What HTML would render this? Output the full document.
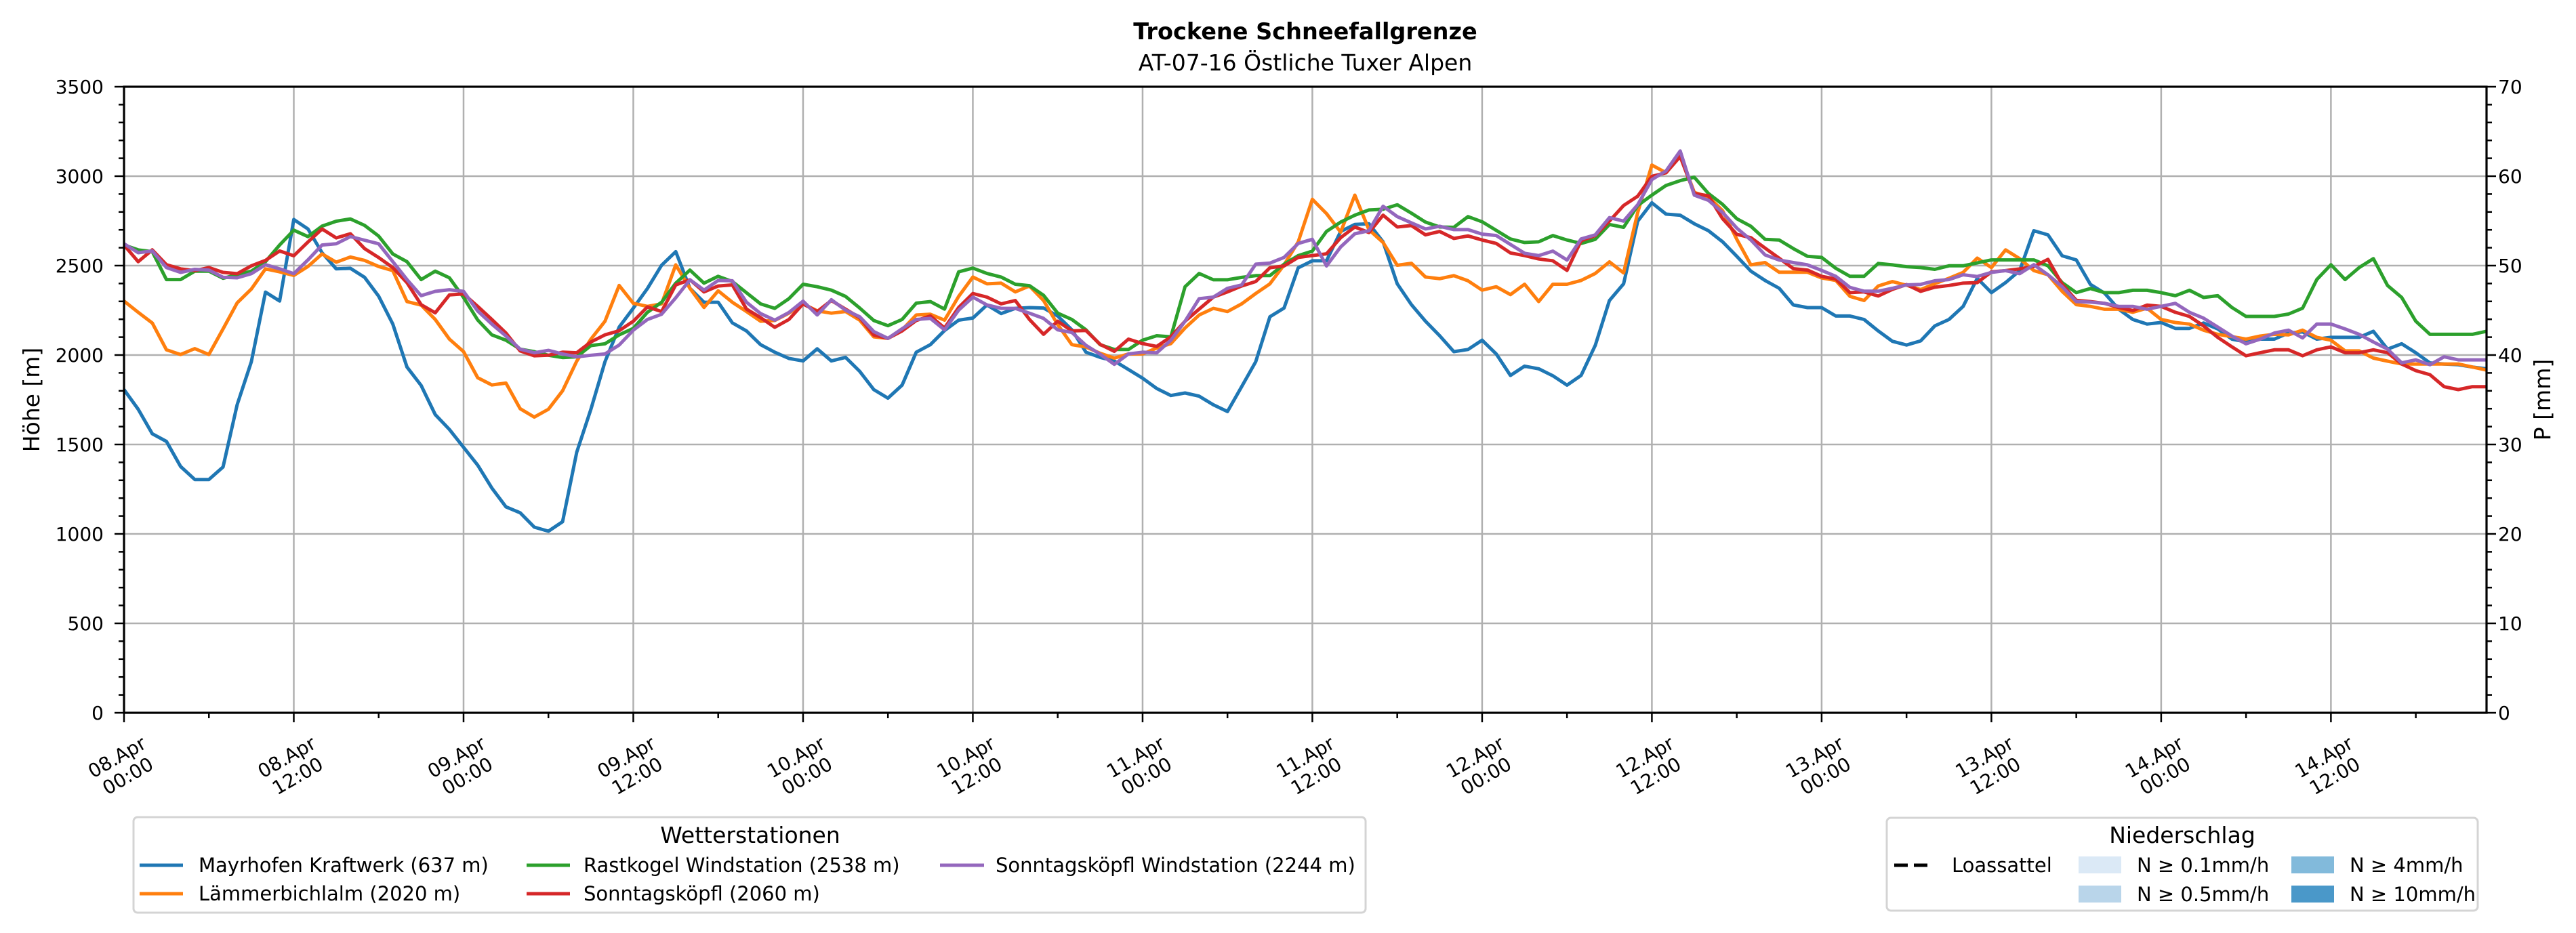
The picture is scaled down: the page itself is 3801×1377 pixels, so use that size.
<!DOCTYPE html>
<html><head><meta charset="utf-8"><style>
html,body{margin:0;padding:0;background:#fff;}
svg{display:block;font-family:"DejaVu Sans","Liberation Sans",sans-serif;}
</style></head><body>
<svg id="chart" width="3801" height="1377" viewBox="0 0 3801 1377" xmlns="http://www.w3.org/2000/svg">
<rect width="3801" height="1377" fill="#fff"/>
<text x="1926" y="58" text-anchor="middle" font-size="33.5" font-weight="bold">Trockene Schneefallgrenze</text>
<text x="1926" y="104" text-anchor="middle" font-size="33">AT-07-16 Östliche Tuxer Alpen</text>
<g id="grid"></g>
<g id="series"></g>
<g id="axes"></g>
<text transform="translate(58,590) rotate(-90)" text-anchor="middle" font-size="33">Höhe [m]</text>
<text transform="translate(3763,590) rotate(-90)" text-anchor="middle" font-size="33">P [mm]</text>

<g>
<rect x="197" y="1206" width="1818" height="141" rx="6" fill="#fff" stroke="#d4d4d4" stroke-width="3"/>
<text x="1107" y="1244" text-anchor="middle" font-size="33">Wetterstationen</text>
<line x1="206" y1="1277" x2="270" y2="1277" stroke="#1f77b4" stroke-width="5"/>
<text x="293" y="1287" font-size="29">Mayrhofen Kraftwerk (637 m)</text>
<line x1="206" y1="1319" x2="270" y2="1319" stroke="#ff7f0e" stroke-width="5"/>
<text x="293" y="1329" font-size="29">Lämmerbichlalm (2020 m)</text>
<line x1="777" y1="1277" x2="841" y2="1277" stroke="#2ca02c" stroke-width="5"/>
<text x="861" y="1287" font-size="29">Rastkogel Windstation (2538 m)</text>
<line x1="777" y1="1319" x2="841" y2="1319" stroke="#d62728" stroke-width="5"/>
<text x="861" y="1329" font-size="29">Sonntagsköpfl (2060 m)</text>
<line x1="1387" y1="1277" x2="1452" y2="1277" stroke="#9467bd" stroke-width="5"/>
<text x="1469" y="1287" font-size="29">Sonntagsköpfl Windstation (2244 m)</text>
</g>
<g>
<rect x="2784" y="1207" width="872" height="137" rx="6" fill="#fff" stroke="#d4d4d4" stroke-width="3"/>
<text x="3220" y="1244" text-anchor="middle" font-size="33">Niederschlag</text>
<line x1="2795" y1="1277" x2="2851" y2="1277" stroke="#000" stroke-width="5" stroke-dasharray="20,9"/>
<text x="2880" y="1287" font-size="29">Loassattel</text>
<rect x="3067" y="1264" width="63" height="25" fill="#dbe9f6"/>
<text x="3153" y="1287" font-size="29">N ≥ 0.1mm/h</text>
<rect x="3067" y="1307" width="63" height="25" fill="#b9d5ea"/>
<text x="3153" y="1330" font-size="29">N ≥ 0.5mm/h</text>
<rect x="3381" y="1264" width="63" height="25" fill="#82badb"/>
<text x="3467" y="1287" font-size="29">N ≥ 4mm/h</text>
<rect x="3381" y="1307" width="63" height="25" fill="#4a98c9"/>
<text x="3467" y="1330" font-size="29">N ≥ 10mm/h</text>
</g>
</svg>
<script>
const yTicks=[0,500,1000,1500,2000,2500,3000,3500];
const y2Ticks=[0,10,20,30,40,50,60,70];
const xTickDates=["08.Apr","08.Apr","09.Apr","09.Apr","10.Apr","10.Apr","11.Apr","11.Apr","12.Apr","12.Apr","13.Apr","13.Apr","14.Apr","14.Apr"];
const xTickTimes=["00:00","12:00","00:00","12:00","00:00","12:00","00:00","12:00","00:00","12:00","00:00","12:00","00:00","12:00"];
const mayrhofen=[1807,1697,1560,1517,1377,1304,1304,1374,1723,1963,2352,2302,2758,2705,2572,2482,2485,2435,2329,2173,1933,1830,1667,1584,1484,1384,1257,1151,1118,1038,1015,1068,1457,1697,1963,2156,2262,2372,2502,2578,
2373,2295,2295,2180,2135,2058,2016,1981,1967,2035,1967,1987,1909,1807,1759,1832,2016,2058,2137,2195,2207,2280,2232,2261,2265,2263,2218,2141,2016,1987,1967,1919,1871,1813,1774,1788,1770,1722,1684,1823,1963,2214,2263,
2488,2527,2527,2691,2730,2734,2633,2398,2282,2189,2108,2019,2031,2083,2006,1886,1938,1923,1884,1832,1886,2054,2305,2398,2748,2851,2788,2782,2734,2695,2633,2552,2469,2417,2373,2280,2265,2265,2218,2218,2199,2135,2077,
2056,2079,2163,2199,2272,2429,2349,2405,2472,2695,2672,2555,2532,2395,2346,2256,2199,2173,2182,2149,2149,2179,2146,2089,2073,2089,2089,2123,2129,2089,2099,2099,2099,2133,2033,2063,2013,1956,1950,1946,1933,1923];
const laemmerbichl=[2302,2239,2179,2029,2003,2036,2003,2146,2292,2369,2482,2465,2445,2495,2565,2519,2548,2529,2495,2472,2299,2279,2199,2089,2019,1873,1833,1843,1700,1653,1697,1800,1966,2089,2189,2389,2289,2272,2286,2504,
2373,2266,2359,2295,2243,2189,2193,2234,2286,2247,2234,2243,2195,2102,2093,2141,2224,2228,2195,2328,2436,2398,2402,2353,2386,2305,2170,2058,2045,2010,1983,2006,2006,2039,2064,2151,2224,2261,2243,2286,2344,2398,2504,
2633,2871,2791,2687,2894,2701,2629,2502,2513,2436,2427,2444,2415,2363,2382,2338,2396,2299,2396,2396,2417,2456,2521,2459,2797,3062,3019,3120,2909,2884,2807,2647,2504,2517,2463,2463,2463,2431,2417,2328,2305,2386,2411,
2390,2366,2399,2429,2462,2542,2489,2588,2539,2472,2449,2356,2282,2272,2256,2256,2239,2262,2199,2182,2173,2139,2116,2103,2089,2106,2116,2113,2139,2099,2083,2023,2023,1983,1966,1950,1950,1950,1950,1950,1933,1916];
const rastkogel=[2615,2588,2578,2422,2422,2469,2469,2429,2449,2469,2522,2615,2698,2662,2721,2748,2761,2725,2665,2565,2522,2422,2469,2432,2322,2196,2113,2083,2033,2019,1999,1986,1990,2053,2063,2113,2149,2239,2295,2402,
2475,2402,2440,2411,2348,2286,2261,2315,2396,2382,2363,2328,2263,2193,2164,2199,2290,2299,2257,2465,2486,2456,2436,2396,2388,2334,2234,2199,2141,2058,2031,2031,2083,2108,2102,2382,2456,2421,2421,2434,2444,2444,2508,
2556,2581,2691,2743,2782,2811,2815,2840,2793,2743,2716,2714,2774,2745,2697,2649,2629,2633,2668,2643,2624,2647,2730,2714,2836,2894,2948,2975,2994,2903,2842,2762,2720,2647,2643,2595,2552,2546,2485,2440,2440,2512,2504,
2494,2489,2479,2499,2499,2515,2532,2532,2532,2532,2499,2405,2349,2372,2349,2349,2362,2362,2349,2332,2362,2322,2332,2266,2216,2216,2216,2229,2262,2422,2505,2422,2489,2539,2389,2322,2189,2116,2116,2116,2116,2133];
const sonntagskoepfl=[2615,2522,2588,2505,2482,2472,2489,2462,2455,2499,2529,2582,2555,2632,2705,2655,2678,2595,2545,2489,2405,2282,2236,2336,2342,2272,2199,2123,2023,1996,1999,2016,2013,2073,2113,2136,2189,2269,2243,2392,
2421,2353,2386,2392,2257,2209,2155,2199,2286,2243,2305,2257,2209,2112,2093,2135,2193,2218,2151,2266,2344,2324,2286,2305,2199,2116,2189,2135,2137,2060,2021,2089,2064,2048,2102,2189,2257,2324,2353,2386,2411,2488,2498,
2546,2556,2566,2656,2716,2685,2782,2716,2724,2672,2691,2652,2666,2643,2624,2571,2556,2537,2527,2473,2639,2668,2749,2836,2888,2999,3019,3110,2903,2890,2762,2675,2656,2598,2541,2483,2475,2440,2425,2349,2353,2330,2367,
2394,2356,2379,2389,2402,2405,2465,2472,2482,2495,2535,2395,2306,2299,2289,2266,2249,2279,2272,2239,2216,2163,2099,2046,1996,2013,2029,2029,1996,2029,2046,2013,2013,2029,2013,1950,1913,1890,1823,1807,1823,1823];
const sonntagWind=[2622,2572,2582,2489,2462,2479,2475,2435,2432,2455,2505,2482,2455,2532,2615,2622,2662,2642,2622,2522,2422,2332,2356,2365,2356,2246,2173,2106,2033,2013,2026,2006,1990,1999,2006,2056,2139,2199,2228,2320,
2421,2363,2417,2415,2295,2232,2195,2238,2301,2224,2309,2251,2214,2131,2093,2147,2199,2205,2141,2251,2324,2280,2261,2261,2234,2205,2141,2126,2054,2005,1948,2006,2016,2012,2083,2189,2315,2324,2373,2392,2508,2514,2546,
2624,2647,2498,2604,2678,2695,2832,2774,2739,2705,2720,2701,2701,2676,2668,2618,2569,2556,2581,2531,2649,2672,2768,2749,2840,2981,3029,3141,2894,2865,2797,2710,2643,2560,2531,2517,2504,2473,2440,2378,2357,2357,2373,
2392,2395,2415,2422,2449,2439,2462,2472,2455,2505,2449,2382,2299,2296,2289,2272,2272,2256,2272,2289,2239,2206,2156,2106,2063,2089,2123,2139,2096,2173,2173,2146,2116,2073,2033,1956,1973,1946,1990,1973,1973,1973];

const NS="http://www.w3.org/2000/svg";
const X0=183,X1=3669,Y0=1052,Y1=128,HMAX=167,VMAX=3500,PMAX=70;
function xs(h){return X0+h*(X1-X0)/HMAX;}
function ys(v){return Y0-v*(Y0-Y1)/VMAX;}
function y2s(p){return Y0-p*(Y0-Y1)/PMAX;}
function mk(tag,attrs,parent){const e=document.createElementNS(NS,tag);for(const k in attrs)e.setAttribute(k,attrs[k]);parent.appendChild(e);return e;}
const grid=document.getElementById('grid'),axes=document.getElementById('axes'),ser=document.getElementById('series');
yTicks.forEach(v=>{const l=mk('line',{x1:X0,x2:X1,y1:ys(v),y2:ys(v),stroke:'#b0b0b0','stroke-width':2.5},grid);

});
xTickDates.forEach((d,i)=>{const l=mk('line',{x1:xs(i*12),x2:xs(i*12),y1:Y0,y2:Y1,stroke:'#b0b0b0','stroke-width':2.5},grid);

});
const series=[[mayrhofen,'#1f77b4','mayrhofen-line'],[laemmerbichl,'#ff7f0e','laemmerbichlalm-line'],[rastkogel,'#2ca02c','rastkogel-line'],[sonntagskoepfl,'#d62728','sonntagskoepfl-line'],[sonntagWind,'#9467bd','sonntagskoepfl-wind-line']];
series.forEach(s=>{const pts=s[0].map((v,i)=>xs(i).toFixed(1)+','+ys(v).toFixed(1)).join(' ');
const p=mk('polyline',{points:pts,fill:'none',stroke:s[1],'stroke-width':5,'stroke-linejoin':'round'},ser);

});
mk('rect',{x:X0,y:Y1,width:X1-X0,height:Y0-Y1,fill:'none',stroke:'#000','stroke-width':3.2},axes);
for(let v=0;v<=VMAX;v+=100){const major=v%500===0;const len=major?14:8;
mk('line',{x1:X0-len,x2:X0,y1:ys(v),y2:ys(v),stroke:'#000','stroke-width':2.5},axes);}
yTicks.forEach(v=>{const t=mk('text',{x:153,y:ys(v)+10,'text-anchor':'end','font-size':28},axes);t.textContent=v;

});
for(let p=0;p<=PMAX;p+=2){const major=p%10===0;const len=major?14:8;
mk('line',{x1:X1,x2:X1+len,y1:y2s(p),y2:y2s(p),stroke:'#000','stroke-width':2.5},axes);}
y2Ticks.forEach(p=>{const t=mk('text',{x:3686,y:y2s(p)+10,'font-size':28},axes);t.textContent=p;

});
for(let h=0;h<=HMAX;h+=6){const major=h%12===0;const len=major?14:8;
mk('line',{x1:xs(h),x2:xs(h),y1:Y0,y2:Y0+len,stroke:'#000','stroke-width':2.5},axes);}
xTickDates.forEach((d,i)=>{const cx=xs(i*12)-2,cy=1132;
const t=mk('text',{transform:'translate('+cx+','+cy+') rotate(-30)','text-anchor':'middle','font-size':28},axes);


const a=mk('tspan',{x:0,y:-7},t);a.textContent=d;
const b=mk('tspan',{x:0,y:25},t);b.textContent=xTickTimes[i];});
</script>
</body></html>
